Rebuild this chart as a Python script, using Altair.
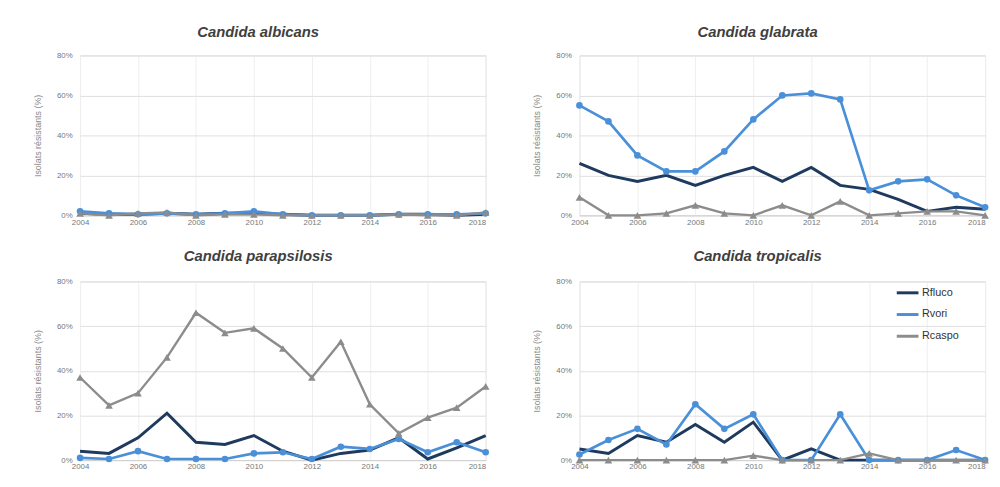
import altair as alt
import pandas as pd

years = list(range(2004, 2019))
species = ["Candida albicans", "Candida glabrata", "Candida parapsilosis", "Candida tropicalis"]
series = ["Rfluco", "Rvori", "Rcaspo"]
colors = ["#1f3a5f", "#4a90d9", "#8c8c8c"]

albicans_rfluco = [1, 0.5, 0.5, 1, 0.5, 1, 1, 0.5, 0, 0, 0, 0.5, 0.5, 0, 0.5]
albicans_rvori = [2, 1, 0.5, 1, 0.5, 1, 2, 0.5, 0, 0, 0, 0.5, 0.5, 0.5, 1]
albicans_rcaspo = [1, 0, 1, 1.5, 0, 0.5, 0.5, 0, 0, 0, 0, 0.5, 0, 0, 1.5]

glabrata_rfluco = [26, 20, 17, 20, 15, 20, 24, 17, 24, 15, 13, 8, 2, 4, 3]
glabrata_rvori = [55, 47, 30, 22, 22, 32, 48, 60, 61, 58, 12.5, 17, 18, 10, 4]
glabrata_rcaspo = [9, 0, 0, 1, 5, 1, 0, 5, 0, 7, 0, 1, 2, 2, 0]

parapsilosis_rfluco = [4, 3, 10, 21, 8, 7, 11, 4, 0, 3, 4.5, 10, 0.5, 5.5, 11]
parapsilosis_rvori = [1, 0.5, 4, 0.5, 0.5, 0.5, 3, 3.5, 0.5, 6, 5, 9.5, 3.5, 8, 3.5]
parapsilosis_rcaspo = [37, 24.5, 30, 46, 66, 57, 59, 50, 37, 53, 25, 12, 19, 23.5, 33]

tropicalis_rfluco = [5, 3, 11, 8, 16, 8, 17, 0, 5, 0, 0, 0, 0, 0, 0]
tropicalis_rvori = [2.5, 9, 14, 7, 25, 14, 20.5, 0, 0, 20.5, 0, 0, 0, 4.5, 0]
tropicalis_rcaspo = [0, 0, 0, 0, 0, 0, 2, 0, 0, 0, 3, 0, 0, 0, 0]

table = {
    "Candida albicans": [albicans_rfluco, albicans_rvori, albicans_rcaspo],
    "Candida glabrata": [glabrata_rfluco, glabrata_rvori, glabrata_rcaspo],
    "Candida parapsilosis": [parapsilosis_rfluco, parapsilosis_rvori, parapsilosis_rcaspo],
    "Candida tropicalis": [tropicalis_rfluco, tropicalis_rvori, tropicalis_rcaspo],
}

rows = []
for sp in species:
    for s, vals in zip(series, table[sp]):
        for y, v in zip(years, vals):
            rows.append({"species": sp, "series": s, "year": y, "value": v})
df = pd.DataFrame(rows)

FONT = "Liberation Sans"


def panel(sp, h, show_legend, title_offset):
    d = df[df["species"] == sp]
    if show_legend:
        leg = alt.Legend(
            title=None, orient="none", legendX=320, legendY=-1,
            symbolType="stroke", symbolStrokeWidth=3, symbolSize=484,
            labelFontSize=11, labelColor="#333333", labelFont=FONT,
            rowPadding=3, labelOffset=2,
        )
    else:
        leg = None
    base = alt.Chart(d).encode(
        x=alt.X(
            "year:Q",
            scale=alt.Scale(domain=[2004, 2018], nice=False, zero=False),
            axis=alt.Axis(
                title=None, values=list(range(2004, 2019, 2)), format="d",
                labelFontSize=8, labelColor="#777777", ticks=False,
                labelPadding=3, domainColor="#d0d0d0", grid=True,
                gridColor="#efefef", labelFont=FONT,
                labelAlign={"condition": {"test": "datum.value == 2018", "value": "right"},
                            "value": "center"},
            ),
        ),
        y=alt.Y(
            "value:Q",
            scale=alt.Scale(domain=[0, 80], nice=False),
            axis=alt.Axis(
                title="Isolats résistants (%)", values=[0, 20, 40, 60, 80],
                labelExpr="datum.value + '%'", labelFontSize=8,
                labelColor="#777777", ticks=False, labelPadding=8,
                domain=False, gridColor="#dedede", titleFontSize=9,
                titleFontWeight="normal", titleColor="#888888",
                titlePadding=14, labelFont=FONT, titleFont=FONT,
            ),
        ),
        color=alt.Color(
            "series:N", scale=alt.Scale(domain=series, range=colors), legend=leg
        ),
    )
    lines = base.mark_line().encode(
        strokeWidth=alt.StrokeWidth(
            "series:N", scale=alt.Scale(domain=series, range=[3, 2.4, 3]), legend=None
        )
    )
    pts = base.transform_filter(alt.datum.series != "Rfluco").mark_point(
        filled=True, opacity=1
    ).encode(
        shape=alt.Shape(
            "series:N",
            scale=alt.Scale(domain=["Rvori", "Rcaspo"], range=["circle", "triangle-up"]),
            legend=None,
        ),
        size=alt.Size(
            "series:N", scale=alt.Scale(domain=["Rvori", "Rcaspo"], range=[45, 60]),
            legend=None,
        ),
    )
    return alt.layer(lines, pts).properties(
        width=411, height=h,
        title=alt.Title(
            sp, fontSize=15, fontStyle="italic", fontWeight="bold",
            color="#404040", font=FONT, offset=title_offset, dx=-25,
        ),
    )


p1 = panel("Candida albicans", 162, False, 12)
p2 = panel("Candida glabrata", 162, False, 12)
p3 = panel("Candida parapsilosis", 181, False, 14)
p4 = panel("Candida tropicalis", 181, True, 14)

top = alt.hconcat(p1, p2, spacing=40).resolve_legend(color="independent")
bottom = alt.hconcat(p3, p4, spacing=40).resolve_legend(color="independent")

chart = alt.vconcat(top, bottom, spacing=21).resolve_legend(
    color="independent"
).properties(
    padding={"left": 25, "top": 13, "right": 0, "bottom": 0}
).configure_view(stroke=None).configure(background="white")

chart.save("out.html", embed_options={"renderer": "svg", "actions": False})
